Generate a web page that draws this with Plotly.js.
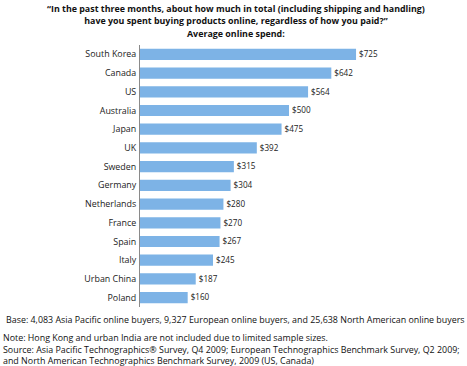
<!DOCTYPE html>
<html><head><meta charset="utf-8">
<script src="https://cdn.plot.ly/plotly-3.0.1.min.js"></script>
<style>html,body{margin:0;padding:0;background:#fff}#chart{width:467px;height:366px}</style>
</head><body><div id="chart"></div>
<script>
const countries = ["South Korea","Canada","US","Australia","Japan","UK","Sweden","Germany","Netherlands","France","Spain","Italy","Urban China","Poland"];
const spend = [725,642,564,500,475,392,315,304,280,270,267,245,187,160];
const titleLines = ["“In the past three months, about how much in total (including shipping and handling)","have you spent buying products online, regardless of how you paid?”"];
const subtitle = "Average online spend:";
const baseNote = "Base: 4,083 Asia Pacific online buyers, 9,327 European online buyers, and 25,638 North American online buyers";
const notes = ["Note: Hong Kong and urban India are not included due to limited sample sizes.","Source: Asia Pacific Technographics® Survey, Q4 2009; European Technographics Benchmark Survey, Q2 2009;","and North American Technographics Benchmark Survey, 2009 (US, Canada)"];

const FONT = "'Open Sans', sans-serif";
const cv = document.createElement('canvas').getContext('2d');
function fit(text, weight, target) {
  cv.font = weight + ' 100px ' + FONT;
  const w = cv.measureText(text).width;
  return Math.round(100 * target / w * 10) / 10;
}
const titleSize = fit(titleLines[0], 'bold', 380);
const footSize = fit(baseNote, 'normal', 460);
const tickSize = fit('Netherlands', 'normal', 51.5);
const valSize = fit('$725', 'normal', 20);

const L = 140, T = 45.4, B = 59.4, H = 366;
function ann(text, xpx, anchor, ypx, yanchor, size, bold) {
  return {text: text, xref: 'paper', yref: 'paper', x: 0, xshift: xpx - L, xanchor: anchor,
          y: 1, yshift: T - ypx, yanchor: yanchor, showarrow: false, align: anchor,
          font: {family: FONT, size: size, color: '#111', weight: bold ? 'bold' : 'normal'}};
}

const trace = {
  type: 'bar', orientation: 'h', x: spend, y: countries,
  marker: {color: '#7db3e6', line: {width: 0}},
  text: spend.map(v => '$' + v), textposition: 'outside',
  textfont: {family: FONT, size: valSize, color: '#222'},
  cliponaxis: false, hoverinfo: 'none', width: 0.6
};
const layout = {
  width: 467, height: 366,
  margin: {l: L, r: 29, t: T, b: B},
  paper_bgcolor: '#fff', plot_bgcolor: '#fff',
  showlegend: false,
  font: {family: FONT, color: '#222', size: tickSize},
  xaxis: {range: [0, 1000], visible: false, fixedrange: true},
  yaxis: {autorange: 'reversed', showline: true, linecolor: '#8a8a8a', linewidth: 1,
          ticks: '', ticklen: 0, showgrid: false, zeroline: false, ticklabelstandoff: 1,
          tickfont: {family: FONT, size: tickSize, color: '#222'}},
  annotations: [
    ann(titleLines.join('<br>'), 235.5, 'center', 0, 'top', titleSize, true),
    ann(subtitle, 235.5, 'center', 33.5, 'middle', titleSize, true),
    ann(baseNote, 4, 'left', 320, 'middle', footSize, false),
    ann(notes.join('<br>'), 1, 'left', 329.5, 'top', footSize, false)
  ]
};
Plotly.newPlot('chart', [trace], layout, {displayModeBar: false, staticPlot: true});
</script></body></html>
